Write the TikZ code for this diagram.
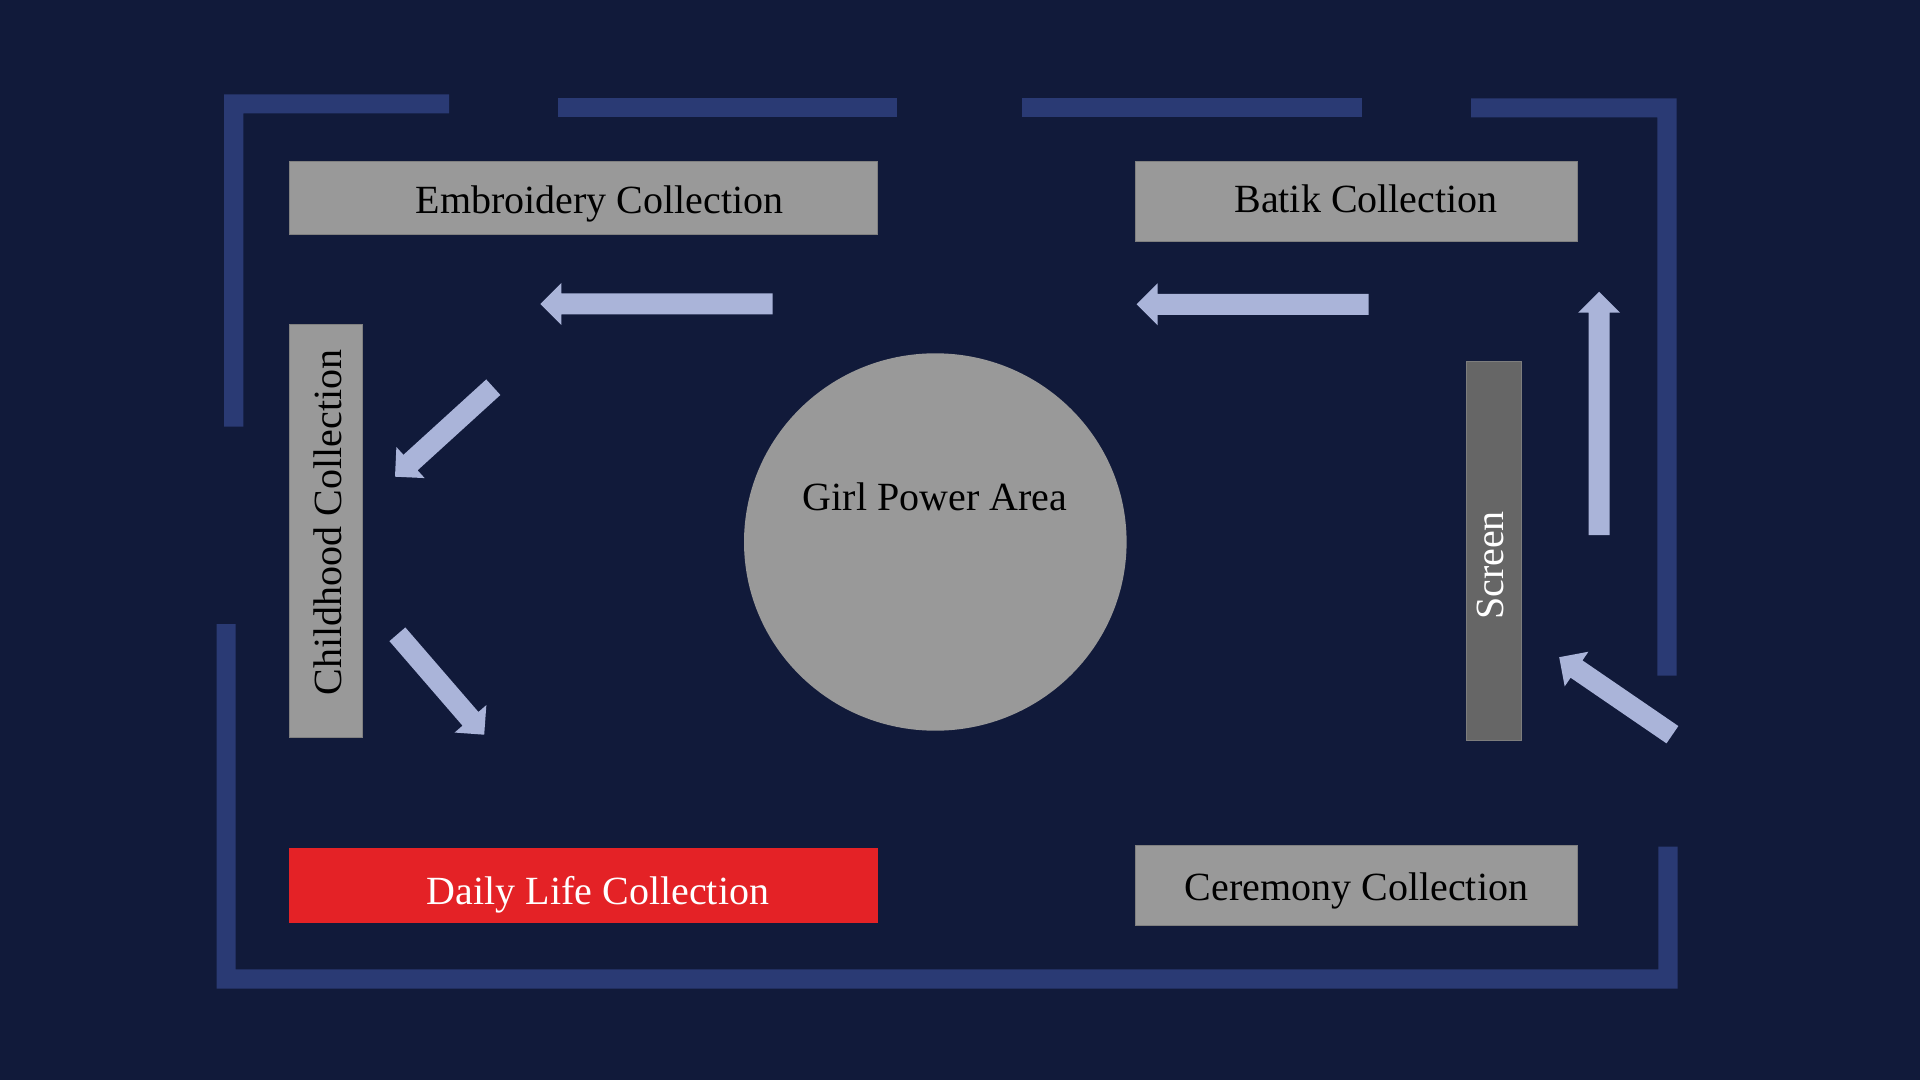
\documentclass[tikz,border=0pt]{standalone}
\usepackage{fontspec}
\setmainfont{Liberation Serif}
\usetikzlibrary{calc,shapes.geometric}
\definecolor{bg}{RGB}{17,26,58}
\definecolor{wallc}{RGB}{42,58,116}
\definecolor{flowc}{RGB}{170,180,217}
\definecolor{boxgray}{RGB}{153,153,153}
\definecolor{boxedge}{RGB}{128,128,128}
\definecolor{screengray}{RGB}{102,102,102}
\definecolor{screenedge}{RGB}{125,125,125}
\definecolor{dred}{RGB}{228,34,38}
% flow arrow: shaft 21px, head 42px wide, 21px long (1px = 0.5pt)
\newcommand\flowarrow[2]{%
  \coordinate (hb) at ($(#2)!10.5pt!(#1)$);
  \fill[flowc] ($(#1)!5.25pt!90:(#2)$) -- ($(hb)!5.25pt!90:(#2)$) -- ($(hb)!10.5pt!90:(#2)$) -- (#2)
     -- ($(hb)!10.5pt!-90:(#2)$) -- ($(hb)!5.25pt!-90:(#2)$) -- ($(#1)!5.25pt!-90:(#2)$) -- cycle;}
\begin{document}
\begin{tikzpicture}[x=0.5pt,y=-0.5pt,
  zonebox/.style={rectangle,inner sep=0pt,outer sep=0pt,fill=boxgray,draw=boxedge,line width=0.4pt},
  lbl/.style={inner sep=0pt,font=\fontsize{20pt}{24pt}\selectfont,text=black},
  wallpiece/.style={fill=wallc}]
\useasboundingbox (0,0) rectangle (1920,1080);
\fill[bg] (0,0) rectangle (1920,1080);

% walls
\fill[wallpiece] (224,94.3) -- (449,94.3) -- (449,113.3) -- (243.3,113.3) -- (243.3,426.7) -- (224,426.7) -- cycle;
\fill[wallpiece] (557.7,98.3) rectangle (897,117.3);
\fill[wallpiece] (1022.3,98.3) rectangle (1362,117.3);
\fill[wallpiece] (1471,98.3) -- (1676.5,98.3) -- (1676.5,675.7) -- (1657.3,675.7) -- (1657.3,117.3) -- (1471,117.3) -- cycle;
\fill[wallpiece] (216.5,624) -- (235.7,624) -- (235.7,969.3) -- (1658.4,969.3) -- (1658.4,846.7) -- (1677.5,846.7) -- (1677.5,988.7) -- (216.5,988.7) -- cycle;

% zones
\node[zonebox,minimum width=293.9pt,minimum height=36.65pt] (emb) at (583.4,197.7) {};
\node[zonebox,minimum width=220.95pt,minimum height=40pt] (bat) at (1356.25,201.7) {};
\node[zonebox,minimum width=36.6pt,minimum height=206.5pt] (chi) at (326,530.5) {};
\node[zonebox,fill=screengray,draw=screenedge,minimum width=27.8pt,minimum height=189.15pt] (scr) at (1494,550.85) {};
\node[zonebox,minimum width=221.2pt,minimum height=39.65pt] (cer) at (1356.4,885.35) {};
\node[zonebox,fill=dred,draw=dred,minimum width=293.95pt,minimum height=37pt] (dai) at (583.25,885.3) {};
\node[ellipse,inner sep=0pt,fill=boxgray,minimum width=191.3pt,minimum height=188.7pt] (gpa) at (935.3,542) {};

% labels
\node[lbl,anchor=base] (embl) at (599.5,213.3) {Embroidery Collection};
\node[lbl,anchor=base] (batl) at (1366,212.7) {Batik Collection};
\node[lbl,anchor=base] (cerl) at (1356.5,900.7) {Ceremony Collection};
\node[lbl,anchor=base,text=white] (dail) at (598,904) {Daily Life Collection};
\node[lbl,anchor=base] (gpal) at (935,510) {Girl Power Area};
\node[lbl,anchor=base,rotate=90] (chil) at (341.5,522.5) {Childhood Collection};
\node[lbl,anchor=base,rotate=90,text=white] (scrl) at (1503.3,565.5) {Screen};

% flow arrows
\coordinate (a1t) at (772.6,304);   \coordinate (a1h) at (540.3,304);
\coordinate (a2t) at (1368.7,304.3);\coordinate (a2h) at (1136.6,304.3);
\coordinate (a3t) at (493.3,387.2); \coordinate (a3h) at (395,476.7);
\coordinate (a4t) at (397.4,634.3); \coordinate (a4h) at (484.2,734.7);
\coordinate (a5t) at (1599.1,535);  \coordinate (a5h) at (1599.1,291.7);
\coordinate (a6t) at (1672.4,734.7);\coordinate (a6h) at (1559.2,657.2);
\flowarrow{a1t}{a1h}
\flowarrow{a2t}{a2h}
\flowarrow{a3t}{a3h}
\flowarrow{a4t}{a4h}
\flowarrow{a5t}{a5h}
\flowarrow{a6t}{a6h}
\end{tikzpicture}
\end{document}
